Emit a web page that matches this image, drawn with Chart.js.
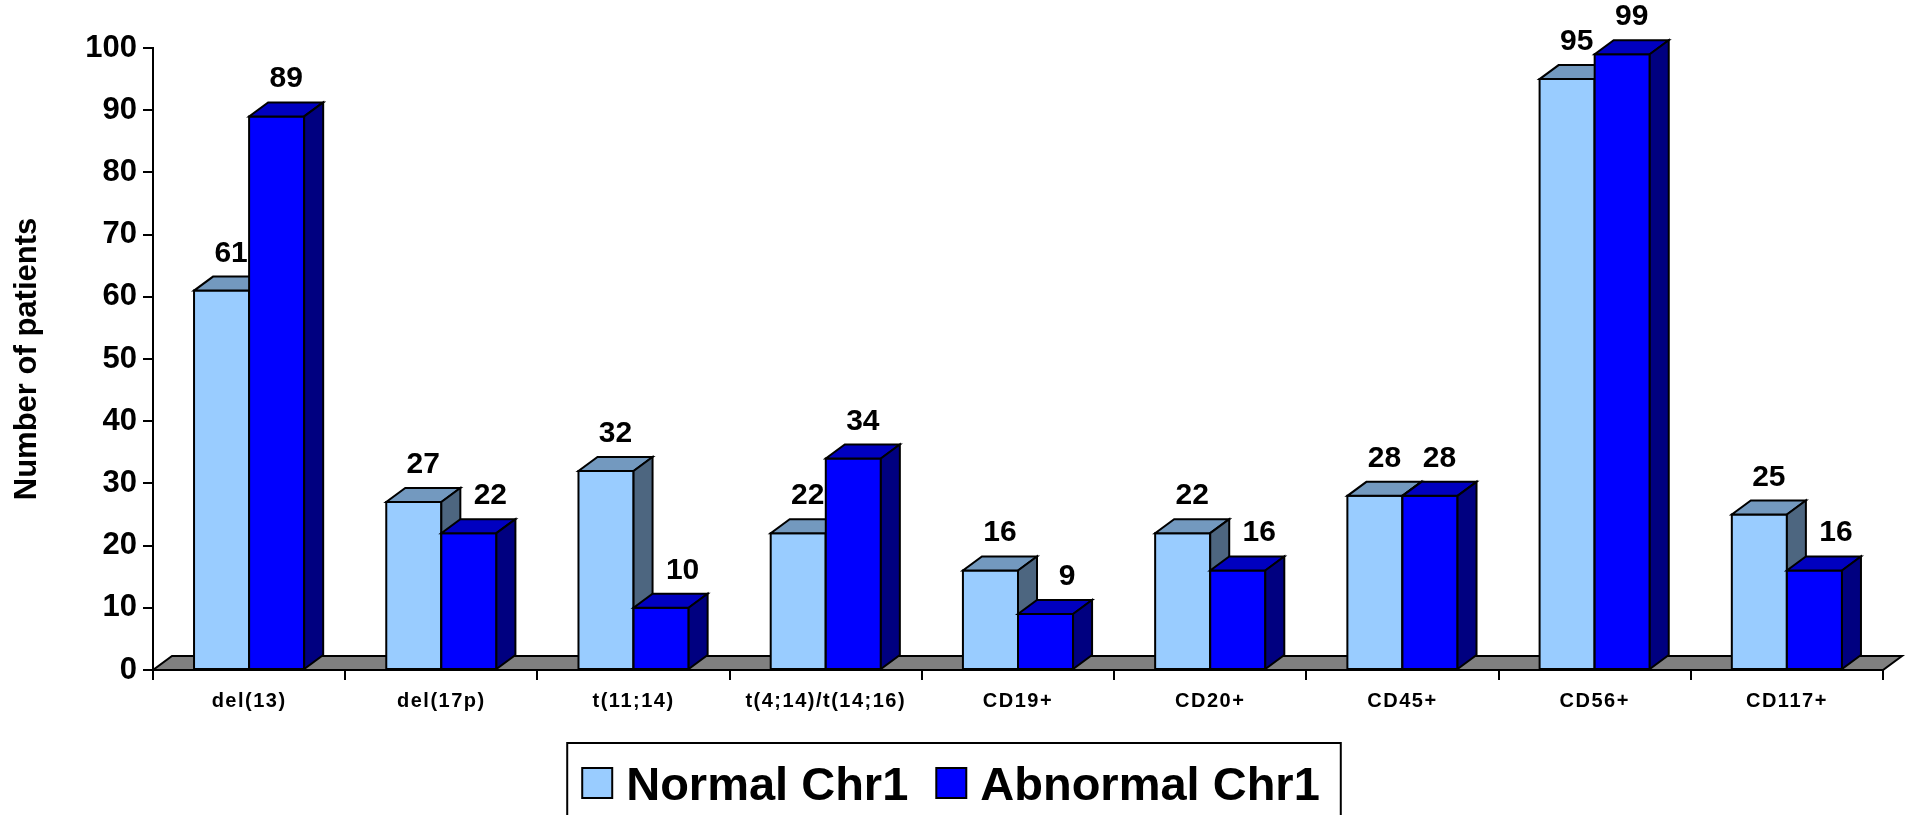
<!DOCTYPE html>
<html>
<head>
<meta charset="utf-8">
<script src="https://cdn.jsdelivr.net/npm/chart.js@4.4.1/dist/chart.umd.min.js"></script>
<style>
  html, body { margin: 0; padding: 0; background: #fff; }
  canvas { display: block; }
</style>
</head>
<body>
<canvas id="chrChart" width="1910" height="815"></canvas>
<script>
/* ========================================
   DADOS
   ======================================== */
const categories = ['del(13)', 'del(17p)', 't(11;14)', 't(4;14)/t(14;16)', 'CD19+', 'CD20+', 'CD45+', 'CD56+', 'CD117+'];
const normalChr1 = [61, 27, 32, 22, 16, 22, 28, 95, 25];
const abnormalChr1 = [89, 22, 10, 34, 9, 16, 28, 99, 16];
const yTicks = [0, 10, 20, 30, 40, 50, 60, 70, 80, 90, 100];
const seriesNames = ['Normal Chr1', 'Abnormal Chr1'];

/* ========================================
   ESTILO 3D
   ======================================== */
const DEPTH_X = 19;
const DEPTH_Y = 14;
const FONT = "'Liberation Sans', Arial, sans-serif";

const faces = [
  { front: '#99CCFF', top: '#7399BF', side: '#4D6680' },
  { front: '#0000FF', top: '#0000C0', side: '#000080' }
];

function poly(ctx, pts, fill) {
  ctx.beginPath();
  ctx.moveTo(pts[0][0], pts[0][1]);
  for (let i = 1; i < pts.length; i++) ctx.lineTo(pts[i][0], pts[i][1]);
  ctx.closePath();
  ctx.fillStyle = fill;
  ctx.fill();
  ctx.stroke();
}

/**
 * Piso cinza por baixo das barras
 */
const floorPlugin = {
  id: 'floor',
  beforeDatasetsDraw(chart) {
    const { ctx, chartArea: a } = chart;
    ctx.save();
    ctx.lineWidth = 2;
    ctx.strokeStyle = '#000';
    poly(ctx, [
      [a.left, a.bottom],
      [a.right, a.bottom],
      [a.right + DEPTH_X, a.bottom - DEPTH_Y],
      [a.left + DEPTH_X, a.bottom - DEPTH_Y]
    ], '#808080');
    ctx.restore();
  }
};

/**
 * Redesenha as barras com frente, topo e lateral, na ordem certa
 */
const bars3dPlugin = {
  id: 'bars3d',
  afterDatasetsDraw(chart) {
    const { ctx, chartArea: a } = chart;
    const metas = [chart.getDatasetMeta(0), chart.getDatasetMeta(1)];
    ctx.save();
    ctx.lineWidth = 2;
    ctx.strokeStyle = '#000';

    for (let i = 0; i < categories.length; i++) {
      metas.forEach((meta, d) => {
        const bar = meta.data[i];
        const { x, y, base, width } = bar.getProps(['x', 'y', 'base', 'width'], true);
        const l = x - width / 2;
        const r = x + width / 2;
        const f = faces[d];
        poly(ctx, [[l, y], [r, y], [r, base], [l, base]], f.front);
        poly(ctx, [[l, y], [r, y], [r + DEPTH_X, y - DEPTH_Y], [l + DEPTH_X, y - DEPTH_Y]], f.top);
        poly(ctx, [[r, y], [r + DEPTH_X, y - DEPTH_Y], [r + DEPTH_X, base - DEPTH_Y], [r, base]], f.side);
      });
    }

    // Rótulos de valor
    ctx.fillStyle = '#000';
    ctx.font = 'bold 30px ' + FONT;
    ctx.textAlign = 'center';
    ctx.textBaseline = 'alphabetic';
    for (let i = 0; i < categories.length; i++) {
      metas.forEach((meta, d) => {
        const bar = meta.data[i];
        const { x, y } = bar.getProps(['x', 'y'], true);
        const value = chart.data.datasets[d].data[i];
        let shift = 0;
        if (d === 1 && value < chart.data.datasets[0].data[i]) shift = 12;
        ctx.fillText(String(value), x + DEPTH_X / 2 + shift, y - DEPTH_Y - 15);
      });
    }

    // Rótulos do eixo x (com espaçamento entre letras)
    const xScale = chart.scales.x;
    ctx.font = 'bold 20px ' + FONT;
    ctx.textBaseline = 'middle';
    if ('letterSpacing' in ctx) ctx.letterSpacing = '1.5px';
    categories.forEach((c, i) => {
      ctx.fillText(c, xScale.getPixelForValue(i), a.bottom + 31);
    });
    ctx.restore();
  }
};

/**
 * Legenda em caixa com borda
 */
const boxLegendPlugin = {
  id: 'boxLegend',
  afterDraw(chart) {
    const { ctx } = chart;
    const top = 743;
    const sw = 30;
    const gapText = 14;
    const gapItem = 28;
    ctx.save();
    ctx.font = 'bold 47px ' + FONT;
    const widths = seriesNames.map(n => ctx.measureText(n).width);
    const total = sw + gapText + widths[0] + gapItem + sw + gapText + widths[1];
    let x = chart.width / 2 - 4 - total / 2;

    ctx.lineWidth = 2;
    ctx.strokeStyle = '#000';
    ctx.strokeRect(x - 15, top, total + 36, 90);

    ctx.textAlign = 'left';
    ctx.textBaseline = 'alphabetic';
    seriesNames.forEach((n, d) => {
      ctx.fillStyle = faces[d].front;
      ctx.fillRect(x, top + 25, sw, sw);
      ctx.strokeRect(x, top + 25, sw, sw);
      ctx.fillStyle = '#000';
      ctx.fillText(n, x + sw + gapText, top + 57);
      x += sw + gapText + widths[d] + gapItem;
    });
    ctx.restore();
  }
};

/* ========================================
   GRÁFICO
   ======================================== */
function buildChart() {
  const canvas = document.getElementById('chrChart');

  new Chart(canvas, {
    type: 'bar',
    data: {
      labels: categories,
      datasets: [
        {
          label: seriesNames[0],
          data: normalChr1,
          backgroundColor: faces[0].front,
          borderColor: '#000',
          borderWidth: 2
        },
        {
          label: seriesNames[1],
          data: abnormalChr1,
          backgroundColor: faces[1].front,
          borderColor: '#000',
          borderWidth: 2
        }
      ]
    },
    options: {
      responsive: false,
      devicePixelRatio: 1,
      animation: false,
      categoryPercentage: 0.573,
      barPercentage: 1.0,
      layout: {
        padding: { left: 0, top: 48, right: 27, bottom: 72 }
      },
      plugins: {
        legend: { display: false },
        tooltip: { enabled: false }
      },
      scales: {
        x: {
          offset: true,
          ticks: { display: false },
          grid: {
            offset: true,
            drawOnChartArea: false,
            drawTicks: true,
            tickLength: 10,
            color: '#000',
            lineWidth: 2
          },
          border: { display: true, color: '#000', width: 2 },
          afterFit: function(scale) { scale.height = 73; }
        },
        y: {
          min: 0,
          max: 100,
          afterBuildTicks: function(scale) {
            scale.ticks = yTicks.map(v => ({ value: v }));
          },
          ticks: {
            color: '#000',
            padding: 6,
            font: { family: FONT, size: 31, weight: 'bold' }
          },
          grid: {
            drawOnChartArea: false,
            drawTicks: true,
            tickLength: 10,
            color: '#000',
            lineWidth: 2
          },
          border: { display: true, color: '#000', width: 2 },
          title: {
            display: true,
            text: 'Number of patients',
            color: '#000',
            padding: { top: 9, bottom: 0 },
            font: { family: FONT, size: 31, weight: 'bold' }
          },
          afterFit: function(scale) { scale.width = 153; }
        }
      }
    },
    plugins: [floorPlugin, bars3dPlugin, boxLegendPlugin]
  });
}

buildChart();
</script>
</body>
</html>
